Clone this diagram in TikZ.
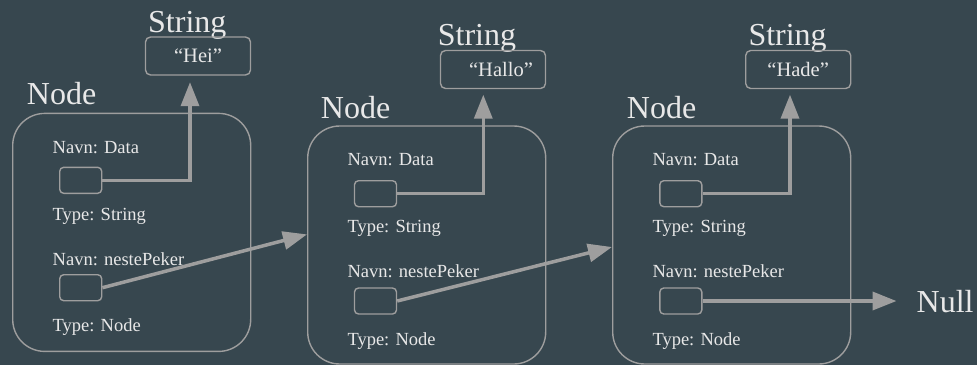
\documentclass[tikz,border=0pt]{standalone}
\usepackage{fontspec}
\setmainfont{Liberation Serif}
\usetikzlibrary{arrows.meta}
\definecolor{bgc}{HTML}{37474F}
\definecolor{linec}{HTML}{9E9E9E}
\definecolor{textc}{HTML}{E8E8E8}
\tikzset{
  panel/.style={draw=linec, line width=1.4pt, rounded corners=32pt, minimum width=238pt, minimum height=238pt, inner sep=0pt},
  cell/.style={draw=linec, line width=1.4pt, rounded corners=4pt, minimum width=42pt, minimum height=26pt, inner sep=0pt},
  strbox/.style={draw=linec, line width=1.4pt, rounded corners=5pt, minimum width=105pt, minimum height=38pt, inner sep=0pt, text=textc, font=\fontsize{20.5}{24}\selectfont},
  small/.style={anchor=base west, inner sep=0pt, text=textc, font=\fontsize{18.5}{22}\selectfont},
  big/.style={anchor=base west, inner sep=0pt, text=textc, font=\fontsize{32}{36}\selectfont},
  ptr/.style={draw=linec, line width=3.5pt, -{Triangle[length=24pt,width=18pt]}}
}
\begin{document}
\begin{tikzpicture}[x=1pt,y=-1pt]
\fill[bgc] (0,0) rectangle (977,365);
\useasboundingbox (0,0) rectangle (977,365);
% panel 1
\node[panel] (p1) at (131.7,232.4) {};
\node[big] (n1) at (26.7,104) {Node};
\node[big] (t1) at (148,32) {String};
\node[strbox] (s1) at (198,56) {“Hei”};
\node[small] (a1) at (52.5,153.3) {Navn: Data};
\node[cell] (d1) at (80.7,180.3) {};
\node[small] (b1) at (52.5,220) {Type: String};
\node[small] (c1) at (52.5,265) {Navn: nestePeker};
\node[cell] (e1) at (80.7,287.7) {};
\node[small] (f1) at (52.5,331.7) {Type: Node};
% panel 2
\node[panel] (p2) at (426.7,245) {};
\node[big] (n2) at (320.7,118) {Node};
\node[big] (t2) at (437.7,45) {String};
\node[strbox] (s2) at (493,69.5) {\hspace*{16pt}“Hallo”};
\node[small] (a2) at (347.3,165.7) {Navn: Data};
\node[cell] (d2) at (375.5,193.7) {};
\node[small] (b2) at (347.3,232) {Type: String};
\node[small] (c2) at (347.3,277.7) {Navn: nestePeker};
\node[cell] (e2) at (375.5,301) {};
\node[small] (f2) at (347.3,345) {Type: Node};
% panel 3
\node[panel] (p3) at (731.7,245) {};
\node[big] (n3) at (626.7,118) {Node};
\node[big] (t3) at (748.3,45) {String};
\node[strbox] (s3) at (798.2,69.5) {“Hade”};
\node[small] (a3) at (652.3,165.7) {Navn: Data};
\node[cell] (d3) at (680.8,193.7) {};
\node[small] (b3) at (652.3,232) {Type: String};
\node[small] (c3) at (652.3,277.7) {Navn: nestePeker};
\node[cell] (e3) at (680.8,301) {};
\node[small] (f3) at (652.3,345) {Type: Node};
\node[big] (null) at (916.5,312.3) {Null};
% pointers
\draw[ptr, shorten >=6.5pt] (d1.east) -| ([xshift=-8pt]s1.south);
\draw[ptr, shorten >=5.5pt] (d2.east) -| ([xshift=-9.7pt]s2.south);
\draw[ptr, shorten >=5.5pt] (d3.east) -| ([xshift=-8.2pt]s3.south);
\draw[ptr] (e1.east) -- ([yshift=-2pt]p1.east -| p2.west);
\draw[ptr] (e2.east) -- ([yshift=-2pt]p2.west -| p3.west);
\draw[ptr, shorten >=20pt] (e3.east) -- (e3.east -| null.west);
\end{tikzpicture}
\end{document}
